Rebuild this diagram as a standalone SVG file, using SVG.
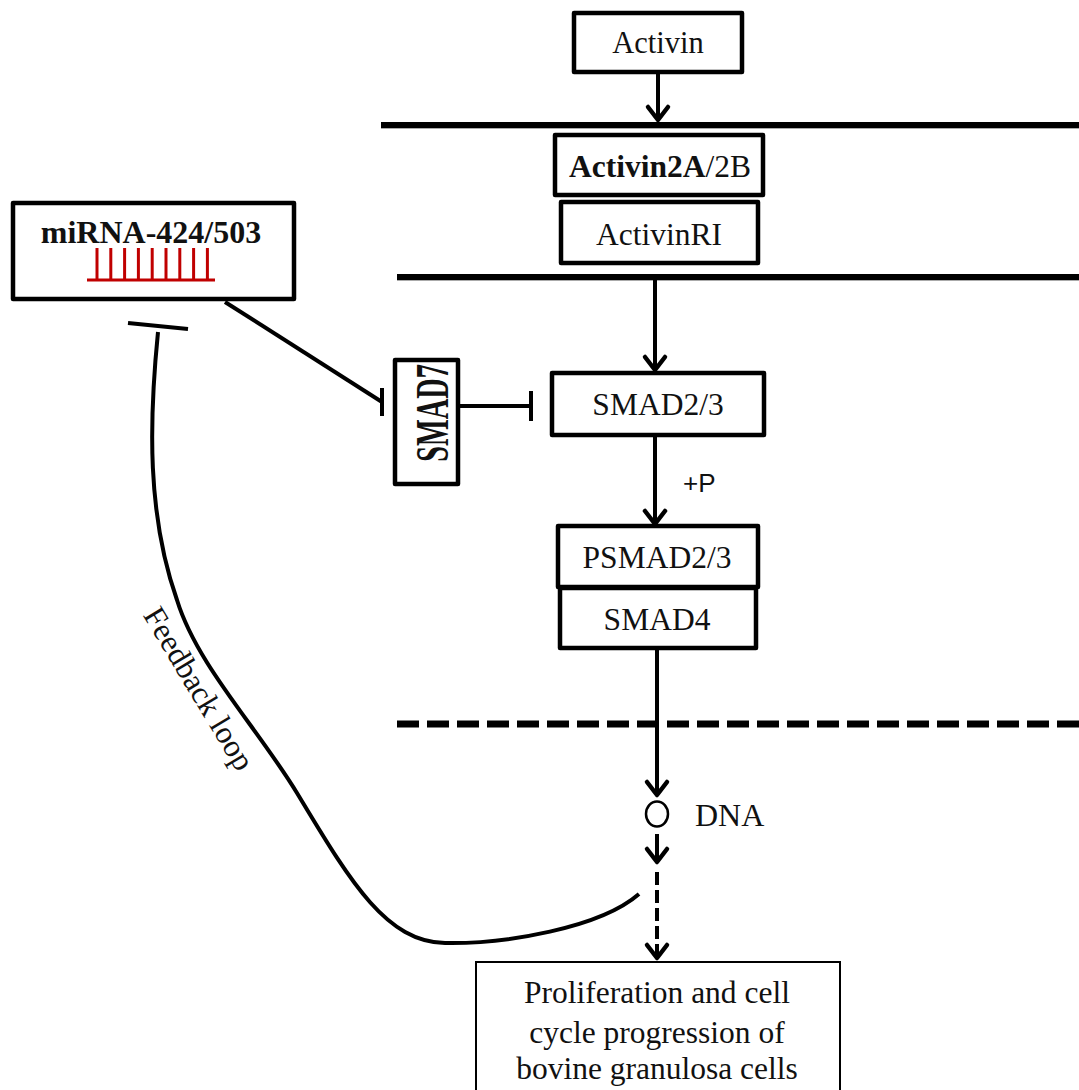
<svg xmlns="http://www.w3.org/2000/svg" width="1079" height="1090" viewBox="0 0 1079 1090">
<defs>
<style>
.box{fill:#fff;stroke:#000;stroke-width:4.5;stroke-linejoin:round}
.t{font-family:"Liberation Serif","Times New Roman",serif;font-size:31.5px;fill:#111;text-anchor:middle}
.b{font-weight:bold}
.ln{stroke:#000;stroke-width:4;fill:none}
.mem{stroke:#000;stroke-width:6;fill:none}
</style>
<marker id="arr" markerUnits="userSpaceOnUse" markerWidth="30" markerHeight="30" viewBox="-15 -15 30 30" refX="0" refY="0" orient="auto" overflow="visible">
<path d="M-13,-10 L0,0 L-13,10" fill="none" stroke="#000" stroke-width="4.5" stroke-linecap="round" stroke-linejoin="round"/>
</marker>
</defs>
<rect width="1079" height="1090" fill="#fff"/>

<g id="membranes">
<line x1="381" y1="128" x2="1079" y2="128" stroke="#aaa" stroke-width="2"/>
<line class="mem" x1="381" y1="125" x2="1079" y2="125"/>
<line x1="397" y1="280" x2="1079" y2="280" stroke="#aaa" stroke-width="2"/>
<line class="mem" x1="397" y1="277" x2="1079" y2="277"/>
<line x1="397" y1="724" x2="1079" y2="724" stroke="#000" stroke-width="7" stroke-dasharray="22,8"/>
</g>

<g id="connectors">
<line class="ln" x1="658" y1="73" x2="658" y2="120" marker-end="url(#arr)"/>
<line class="ln" x1="655" y1="280" x2="655" y2="370" marker-end="url(#arr)"/>
<line class="ln" x1="655" y1="437" x2="655" y2="524" marker-end="url(#arr)"/>
<line class="ln" x1="657" y1="648" x2="657" y2="795" marker-end="url(#arr)"/>
<line class="ln" x1="657" y1="834" x2="657" y2="862" marker-end="url(#arr)"/>
<line class="ln" x1="657" y1="872" x2="657" y2="958" stroke-dasharray="13,5" marker-end="url(#arr)"/>
<line class="ln" x1="225" y1="302" x2="382" y2="402"/>
<line class="ln" x1="382" y1="388" x2="382" y2="416"/>
<line class="ln" x1="458" y1="406" x2="530" y2="406"/>
<line class="ln" x1="531" y1="391" x2="531" y2="421"/>
<path class="ln" stroke-width="3" d="M158,332 C149,422 147,515 177,600 C197,665 257,727 297,793 C349,879 385,942 445,943 C505,944 600,928 639,894"/>
<line class="ln" x1="128" y1="323" x2="188" y2="329"/>
</g>

<g id="activin">
<rect class="box" x="574" y="13" width="168" height="59"/>
<text class="t" x="658" y="53" style="font-size:30.5px">Activin</text>
</g>
<g id="activin2a2b">
<rect class="box" x="555" y="135" width="208" height="60"/>
<text class="t" x="660" y="177"><tspan class="b">Activin2A</tspan>/2B</text>
</g>
<g id="activinri">
<rect class="box" x="561" y="202" width="197" height="61"/>
<text class="t" x="659" y="245">ActivinRI</text>
</g>
<g id="mirna">
<rect class="box" x="13" y="203" width="281" height="96"/>
<text class="t b" x="151" y="243" style="font-size:32px">miRNA-424/503</text>
<g stroke="#c00000" stroke-width="3">
<line x1="87" y1="280" x2="215" y2="280"/>
<line x1="97" y1="248" x2="97" y2="280"/>
<line x1="110.8" y1="248" x2="110.8" y2="280"/>
<line x1="124.6" y1="248" x2="124.6" y2="280"/>
<line x1="138.4" y1="248" x2="138.4" y2="280"/>
<line x1="152.2" y1="248" x2="152.2" y2="280"/>
<line x1="166" y1="248" x2="166" y2="280"/>
<line x1="179.8" y1="248" x2="179.8" y2="280"/>
<line x1="193.6" y1="248" x2="193.6" y2="280"/>
<line x1="207.4" y1="248" x2="207.4" y2="280"/>
</g>
</g>
<g id="smad7">
<rect class="box" x="395" y="360" width="63" height="124"/>
<text class="t b" transform="translate(448,413) rotate(-90) scale(0.9,1.5)">SMAD7</text>
</g>
<g id="smad23">
<rect class="box" x="552" y="373" width="212" height="62"/>
<text class="t" x="658" y="415">SMAD2/3</text>
</g>
<text x="683" y="492" font-family="Liberation Sans, Arial, sans-serif" font-size="26" fill="#111">+P</text>
<g id="psmad23">
<rect class="box" x="558" y="526" width="200" height="61"/>
<text class="t" x="657" y="568">PSMAD2/3</text>
</g>
<g id="smad4">
<rect class="box" x="560" y="588" width="196" height="60"/>
<text class="t" x="657" y="630">SMAD4</text>
</g>
<g id="dna">
<ellipse cx="657" cy="814" rx="11" ry="12.5" fill="#fff" stroke="#000" stroke-width="2.5"/>
<text class="t" x="695" y="826" style="text-anchor:start;font-size:32px">DNA</text>
</g>
<g id="feedback">
<text class="t" transform="translate(190,694) rotate(59)">Feedback loop</text>
</g>
<g id="result">
<rect x="476" y="962" width="364" height="140" fill="#fff" stroke="#000" stroke-width="2"/>
<text class="t" x="657" y="1003">Proliferation  and cell</text>
<text class="t" x="657" y="1043">cycle progression of</text>
<text class="t" x="657" y="1079">bovine granulosa cells</text>
</g>
</svg>
